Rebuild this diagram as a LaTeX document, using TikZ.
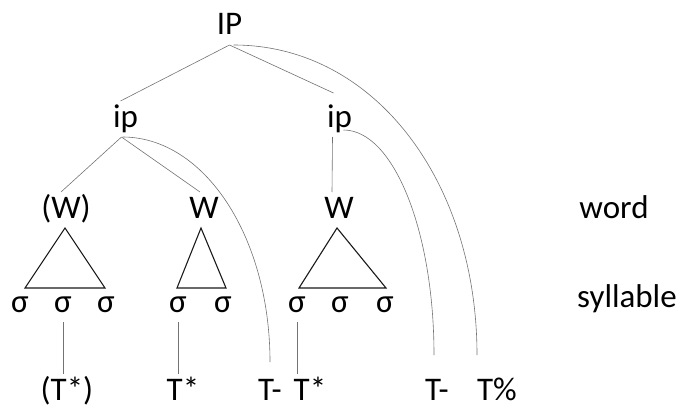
\documentclass[tikz,border=0pt]{standalone}
\usepackage{fontspec}
\setmainfont{Carlito}
\newcommand\lblfont{\fontsize{33}{40}\selectfont}
\begin{document}
\begin{tikzpicture}[
  x=1pt, y=-1pt,
  lbl/.style={font=\lblfont, inner sep=0pt, outer sep=5pt, text height=21pt, text depth=5pt, anchor=base},
  branch/.style={draw=black!55, line width=0.6pt},
  tri/.style={draw=black!90, line width=1.1pt, line join=miter}
]
\useasboundingbox (0,0) rectangle (684,409);
% prosodic constituents
\node[lbl] (IP)   at (229.5,35) {IP};
\node[lbl] (ipL)  at (125.5,127) {ip};
\node[lbl] (ipR)  at (339.5,127) {ip};
\node[lbl] (wL)   at (66,218) {(W)};
\node[lbl] (wM)   at (204,218) {W};
\node[lbl] (wR)   at (339,218) {W};
\node[lbl] (word) at (614,218) {word};
\foreach \x [count=\i] in {20,63,106,178,223,297,340,385}
  \node[lbl] (s\i) at (\x,312) {σ};
\node[lbl] (syl)  at (627,307) {syllable};
% tones
\node[lbl] (t1) at (67,400) {(T*)};
\node[lbl] (t2) at (183,400) {T*};
\node[lbl] (t3) at (270,400) {T-};
\node[lbl] (t4) at (310,400) {T*};
\node[lbl] (t5) at (437,400) {T-};
\node[lbl] (t6) at (497,400) {T\%};

\draw[branch] (IP.south) -- ([xshift=-5pt]ipL.north);
\draw[branch] (IP.south) -- ([shift={(-6,-8)}]ipR.north);
\draw[branch] ([xshift=-4pt]ipL.south) -- ([xshift=-5pt]wL.north);
\draw[branch] ([xshift=-4pt]ipL.south) -- ([xshift=-4pt]wM.north);
\draw[branch] ([xshift=-7pt]ipR.south) -- ([xshift=-7pt]wR.north);

\draw[tri] ([xshift=-1pt]wL.south) -- ++(-40,60) -- ++(80,0) -- cycle;
\draw[tri] ([xshift=-3pt]wM.south) -- ++(-24,60) -- ++(49,0) -- cycle;
\draw[tri] ([xshift=-2pt]wR.south) -- ++(-38,60) -- ++(87,0) -- cycle;

\draw[branch] (s2.south) -- (s2.south |- t1.north);
\draw[branch] (s4.south) -- (s4.south |- t2.north);
\draw[branch] (s6.south) -- (s6.south |- t4.north);

% edge tones hang from their phrases
\draw[branch] ([xshift=-3pt]ipL.south) .. controls +(82,0) and +(0,-125) .. ([yshift=12pt]t3.north);
\draw[branch] ([shift={(4,-7)}]ipR.south) .. controls +(50,0) and +(0,-124) .. ([shift={(-3,-19)}]t5.north);
\draw[branch] ([xshift=4pt]IP.south) .. controls +(142,0) and +(0,-172) .. ([shift={(-20,-19)}]t6.north);
\end{tikzpicture}
\end{document}
